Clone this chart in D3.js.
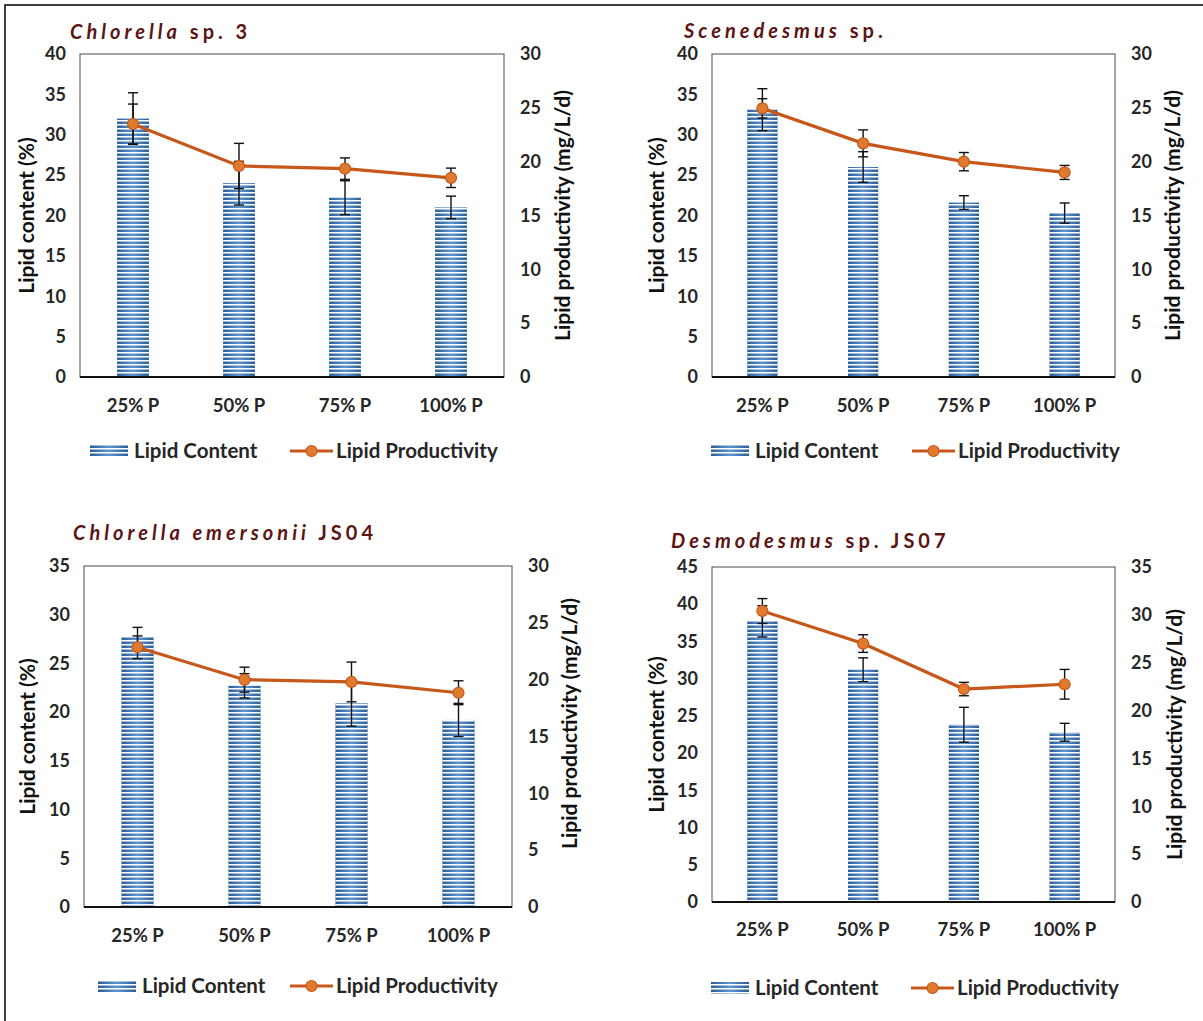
<!DOCTYPE html>
<html>
<head>
<meta charset="utf-8">
<script src="https://cdn.jsdelivr.net/npm/d3@7"></script>
<style>
  html, body { margin: 0; padding: 0; background: #fff; }
  svg { display: block; }
  text { font-family: Lato, "Open Sans", sans-serif; }
</style>
</head>
<body>
<svg id="chart" width="1203" height="1021"></svg>
<script>
// Phosphate levels tested for each strain
const categories = ["25% P", "50% P", "75% P", "100% P"];

// Strain names (italic genus/species part, plain remainder)
const titleItalic = ["Chlorella", "Scenedesmus", "Chlorella emersonii", "Desmodesmus"];
const titlePlain  = [" sp. 3", " sp.", " JS04", " sp. JS07"];

// Lipid content (%) and its standard deviation
const contentP1 = [32.0, 24.0, 22.2, 21.0];
const contentErrP1 = [3.2, 2.7, 2.1, 1.4];
const contentP2 = [33.1, 26.0, 21.6, 20.3];
const contentErrP2 = [2.6, 1.9, 0.85, 1.25];
const contentP3 = [27.7, 22.7, 20.9, 19.2];
const contentErrP3 = [1.0, 1.25, 2.35, 1.7];
const contentP4 = [37.7, 31.2, 23.8, 22.8];
const contentErrP4 = [2.1, 1.6, 2.35, 1.2];

// Lipid productivity (mg/L/d) and its standard deviation
const prodP1 = [23.5, 19.6, 19.35, 18.5];
const prodErrP1 = [1.85, 2.1, 1.0, 0.9];
const prodP2 = [24.95, 21.7, 20.0, 19.0];
const prodErrP2 = [0.9, 1.25, 0.85, 0.65];
const prodP3 = [22.85, 20.0, 19.8, 18.85];
const prodErrP3 = [1.0, 1.1, 1.75, 1.05];
const prodP4 = [30.4, 27.0, 22.25, 22.75];
const prodErrP4 = [1.3, 0.92, 0.7, 1.55];

// Axis maxima (left: content, right: productivity); ticks every 5
const leftMax = [40, 40, 35, 45];
const rightMax = [30, 30, 30, 35];

const legendLabels = ["Lipid Content", "Lipid Productivity"];
const leftTitle = "Lipid content (%)";
const rightTitle = "Lipid productivity (mg/L/d)";

const contents = [contentP1, contentP2, contentP3, contentP4];
const contentErrs = [contentErrP1, contentErrP2, contentErrP3, contentErrP4];
const prods = [prodP1, prodP2, prodP3, prodP4];
const prodErrs = [prodErrP1, prodErrP2, prodErrP3, prodErrP4];

// Panel frames and text placement
const frames = [
  {x0: 80,  x1: 504,  y0: 54,  y1: 377, titleX: 70,  titleY: 38,  xlabY: 412, legY: 451, leftT: 27,  rightT: 563, rightTY: 0,   sw: 90,  ln: 290},
  {x0: 712, x1: 1115, y0: 54,  y1: 377, titleX: 684, titleY: 37,  xlabY: 412, legY: 451, leftT: 657, rightT: 1173, rightTY: 0,  sw: 711, ln: 912},
  {x0: 84,  x1: 512,  y0: 566, y1: 907, titleX: 73,  titleY: 539, xlabY: 942, legY: 986, leftT: 28,  rightT: 570, rightTY: -13, sw: 98,  ln: 290},
  {x0: 712, x1: 1115, y0: 567, y1: 902, titleX: 671, titleY: 547, xlabY: 936, legY: 988, leftT: 657, rightT: 1175, rightTY: 0,  sw: 711, ln: 911}
];

const svg = d3.select("#chart");
const defs = svg.append("defs");

// Horizontal blue shading across each bar: dark at the edges, light in the middle
const grad = defs.append("linearGradient").attr("id", "barShade")
  .attr("x1", "0").attr("x2", "1").attr("y1", "0").attr("y2", "0");
grad.append("stop").attr("offset", "0%").attr("stop-color", "#2a5d97");
grad.append("stop").attr("offset", "50%").attr("stop-color", "#5f95d0");
grad.append("stop").attr("offset", "100%").attr("stop-color", "#2a5d97");

// White horizontal gaps laid over the shading give the striped fill
const pat = defs.append("pattern").attr("id", "stripes")
  .attr("patternUnits", "userSpaceOnUse").attr("width", 8).attr("height", 4);
pat.append("rect").attr("x", 0).attr("y", 0).attr("width", 8).attr("height", 1.5).attr("fill", "#ffffff");

const lineColor = "#c5581a";
const markerFill = "#e07a2e";
const darkText = "#262626";

// Outer frame around the figure
svg.append("rect").attr("x", 5).attr("y", 5).attr("width", 1210).attr("height", 1030)
  .attr("fill", "none").attr("stroke", "#111").attr("stroke-width", 1.6);

frames.forEach((f, i) => {
  const g = svg.append("g");
  const x = d3.scaleBand().domain(categories).range([f.x0, f.x1]).paddingInner(0.7).paddingOuter(0.35);
  const yL = d3.scaleLinear().domain([0, leftMax[i]]).range([f.y1, f.y0]);
  const yR = d3.scaleLinear().domain([0, rightMax[i]]).range([f.y1, f.y0]);

  // Plot frame
  g.append("rect").attr("x", f.x0).attr("y", f.y0).attr("width", f.x1 - f.x0).attr("height", f.y1 - f.y0)
    .attr("fill", "none").attr("stroke", "#4a4a4a").attr("stroke-width", 1);

  // Bars
  const bars = contents[i].map((v, k) => ({c: categories[k], v: v, e: contentErrs[i][k]}));
  g.selectAll(".bar").data(bars).enter().append("rect")
    .attr("x", d => x(d.c)).attr("width", x.bandwidth())
    .attr("y", d => yL(d.v)).attr("height", d => yL(0) - yL(d.v))
    .attr("fill", "url(#barShade)");
  g.selectAll(".barStripe").data(bars).enter().append("rect")
    .attr("x", d => x(d.c)).attr("width", x.bandwidth())
    .attr("y", d => yL(d.v)).attr("height", d => yL(0) - yL(d.v))
    .attr("fill", "url(#stripes)");

  // Baseline
  g.append("line").attr("x1", f.x0).attr("x2", f.x1).attr("y1", f.y1).attr("y2", f.y1)
    .attr("stroke", "#111").attr("stroke-width", 2.2);

  // Error bars helper
  function errBars(data, scale) {
    const cap = 5;
    const eg = g.append("g").attr("stroke", "#111").attr("stroke-width", 1.4);
    data.forEach(d => {
      const cx = x(d.c) + x.bandwidth() / 2;
      const top = scale(d.v + d.e), bot = scale(d.v - d.e);
      eg.append("line").attr("x1", cx).attr("x2", cx).attr("y1", top).attr("y2", bot);
      eg.append("line").attr("x1", cx - cap).attr("x2", cx + cap).attr("y1", top).attr("y2", top);
      eg.append("line").attr("x1", cx - cap).attr("x2", cx + cap).attr("y1", bot).attr("y2", bot);
    });
  }
  errBars(bars, yL);

  // Productivity line
  const pts = prods[i].map((v, k) => ({c: categories[k], v: v, e: prodErrs[i][k]}));
  errBars(pts, yR);
  const line = d3.line().x(d => x(d.c) + x.bandwidth() / 2).y(d => yR(d.v));
  g.append("path").datum(pts).attr("d", line)
    .attr("fill", "none").attr("stroke", lineColor).attr("stroke-width", 3.2);
  g.selectAll(".pt").data(pts).enter().append("circle")
    .attr("cx", d => x(d.c) + x.bandwidth() / 2).attr("cy", d => yR(d.v)).attr("r", 5.5)
    .attr("fill", markerFill).attr("stroke", lineColor).attr("stroke-width", 1.2);

  // Left axis
  const axL = d3.axisLeft(yL).ticks(leftMax[i] / 5).tickSize(0).tickPadding(14);
  const gl = g.append("g").attr("transform", `translate(${f.x0},0)`).call(axL);
  gl.select(".domain").remove();
  gl.selectAll("text").attr("font-size", 18).attr("font-weight", 700).attr("fill", darkText)
    .style("font-family", "Lato, sans-serif");

  // Right axis
  const axR = d3.axisRight(yR).ticks(rightMax[i] / 5).tickSize(0).tickPadding(16);
  const gr = g.append("g").attr("transform", `translate(${f.x1},0)`).call(axR);
  gr.select(".domain").remove();
  gr.selectAll("text").attr("font-size", 18).attr("font-weight", 700).attr("fill", darkText)
    .style("font-family", "Lato, sans-serif");

  // Category labels
  g.selectAll(".xl").data(categories).enter().append("text")
    .attr("x", d => x(d) + x.bandwidth() / 2).attr("y", f.xlabY)
    .attr("text-anchor", "middle").attr("font-size", 18.5).attr("font-weight", 700)
    .attr("fill", darkText).text(d => d);

  // Axis titles
  const midY = (f.y0 + f.y1) / 2;
  g.append("text").attr("transform", `translate(${f.leftT},${midY}) rotate(-90)`)
    .attr("text-anchor", "middle").attr("dy", "0.35em").attr("font-size", 21).attr("font-weight", 700)
    .attr("fill", "#111").text(leftTitle);
  g.append("text").attr("transform", `translate(${f.rightT},${midY + f.rightTY}) rotate(-90)`)
    .attr("text-anchor", "middle").attr("dy", "0.35em").attr("font-size", 21).attr("font-weight", 700)
    .attr("fill", "#111").text(rightTitle);

  // Panel title
  const t = g.append("text").attr("x", f.titleX).attr("y", f.titleY + 1)
    .attr("font-size", 20).attr("font-weight", 700).attr("fill", "#5c1414")
    .attr("letter-spacing", 4);
  t.append("tspan").attr("font-style", "italic").text(titleItalic[i]);
  t.append("tspan").text(titlePlain[i]);

  // Legend
  const lg = g.append("g");
  lg.append("rect").attr("x", f.sw).attr("y", f.legY - 6).attr("width", 38).attr("height", 12)
    .attr("fill", "url(#barShade)");
  lg.append("rect").attr("x", f.sw).attr("y", f.legY - 6).attr("width", 38).attr("height", 12)
    .attr("fill", "url(#stripes)");
  lg.append("text").attr("x", f.sw + 44).attr("y", f.legY).attr("dy", "0.36em")
    .attr("font-size", 20.5).attr("font-weight", 700).attr("fill", darkText).text(legendLabels[0]);
  lg.append("line").attr("x1", f.ln).attr("x2", f.ln + 43).attr("y1", f.legY).attr("y2", f.legY)
    .attr("stroke", lineColor).attr("stroke-width", 3.2);
  lg.append("circle").attr("cx", f.ln + 21.5).attr("cy", f.legY).attr("r", 5.5)
    .attr("fill", markerFill).attr("stroke", lineColor).attr("stroke-width", 1.2);
  lg.append("text").attr("x", f.ln + 46).attr("y", f.legY).attr("dy", "0.36em")
    .attr("font-size", 20.5).attr("font-weight", 700).attr("fill", darkText).text(legendLabels[1]);
});
</script>
</body>
</html>
